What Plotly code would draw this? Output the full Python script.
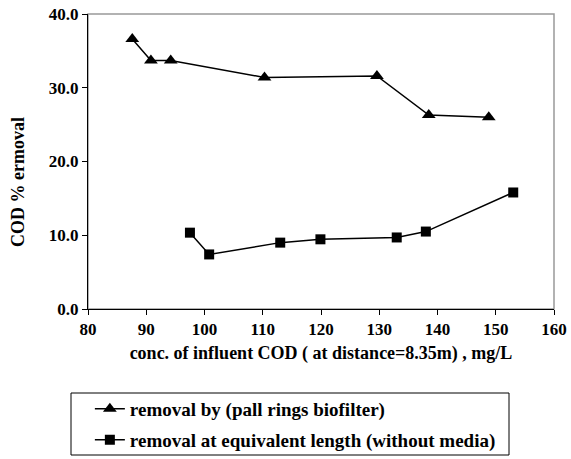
import plotly.graph_objects as go

tri_x = [87.6, 90.8, 94.2, 110.3, 129.6, 138.5, 148.8]
tri_y = [36.6, 33.7, 33.7, 31.4, 31.6, 26.3, 26.0]
sq_x = [97.5, 100.8, 113.0, 119.9, 133.0, 138.0, 153.0]
sq_y = [10.35, 7.4, 9.0, 9.45, 9.7, 10.5, 15.8]

name1 = "removal by (pall rings biofilter)"
name2 = "removal at equivalent length (without media)"
xtitle = "conc. of influent COD ( at distance=8.35m) , mg/L"
ytitle = "COD % ermoval"

F = "Liberation Serif"

fig = go.Figure()
fig.add_trace(go.Scatter(x=tri_x, y=tri_y, mode="lines+markers", name=name1, legend="legend",
                         line=dict(color="black", width=1.5),
                         marker=dict(symbol="triangle-up", size=12, color="black")))
fig.add_trace(go.Scatter(x=sq_x, y=sq_y, mode="lines+markers", name=name2, legend="legend2",
                         line=dict(color="black", width=1.5),
                         marker=dict(symbol="square", size=10, color="black")))

leg_font = dict(family=F, size=19, color="black", weight="bold")
fig.update_layout(
    width=571, height=459,
    margin=dict(l=88, r=17, t=14, b=150, autoexpand=False),
    plot_bgcolor="white", paper_bgcolor="white",
    font=dict(family=F, color="black", size=16),
    showlegend=True,
    legend=dict(x=0.004, y=-0.339, xanchor="left", yanchor="middle",
                bgcolor="rgba(0,0,0,0)", borderwidth=0, font=leg_font),
    legend2=dict(x=0.004, y=-0.444, xanchor="left", yanchor="middle",
                 bgcolor="rgba(0,0,0,0)", borderwidth=0, font=leg_font),
    shapes=[
        dict(type="rect", xref="paper", yref="paper", x0=0, y0=0, x1=1, y1=1,
             line=dict(color="#999999", width=1.5), layer="below"),
        dict(type="rect", xref="paper", yref="paper",
             x0=(71 - 88) / 466, x1=(509 - 88) / 466,
             y0=(309 - 393) / 295, y1=(309 - 455) / 295,
             line=dict(color="black", width=1)),
    ],
    annotations=[dict(text=ytitle, xref="paper", yref="paper", x=(18 - 88) / 466,
                      y=(309 - 182) / 295, textangle=-90, showarrow=False,
                      xanchor="center", yanchor="middle",
                      font=dict(family=F, size=18, weight="bold"))],
)
fig.update_xaxes(range=[80, 160], dtick=10, showgrid=False, zeroline=False,
                 showline=True, linecolor="black", linewidth=1, automargin=False,
                 ticks="outside", ticklen=5, tickcolor="black",
                 tickfont=dict(family=F, size=17, weight="bold"),
                 title=dict(text=xtitle, standoff=7,
                            font=dict(family=F, size=18, weight="bold")))
fig.update_yaxes(range=[0, 40], dtick=10, tickformat=".1f", showgrid=False, zeroline=False,
                 showline=True, linecolor="black", linewidth=1, automargin=False,
                 ticks="outside", ticklen=5, tickcolor="black",
                 tickfont=dict(family=F, size=17, weight="bold"))

fig.write_html("out.html", config={"displayModeBar": False},
               post_script="document.body.style.margin='0px';")
